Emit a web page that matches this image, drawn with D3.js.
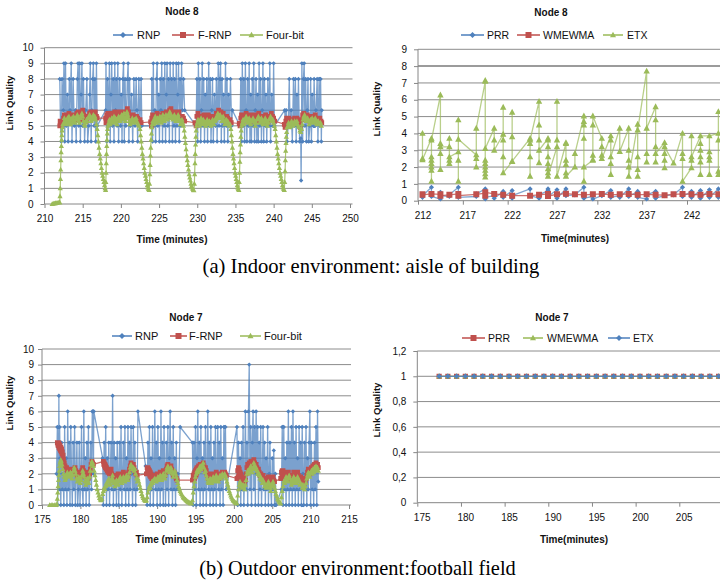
<!DOCTYPE html>
<html><head><meta charset="utf-8">
<script src="https://cdn.jsdelivr.net/npm/d3@7"></script>
<style>
body{margin:0;background:#fff}
svg{display:block}
text{font-family:"Liberation Sans",Arial,sans-serif;fill:#111}
text.cap{font-family:"Liberation Serif","Times New Roman",serif;fill:#000}
</style></head>
<body><svg id="c" width="720" height="584"></svg>
<script>
// ---------------- DATA ----------------
// (a) Node 8, indoor: RNP / F-RNP / Four-bit  [time(min), link quality]
const a_rnp = [
[212.0,8],[212.1,5],[212.2,4],[212.3,8],[212.45,6],[212.55,9],[212.65,4],[212.75,9],[212.85,5],[213.0,7],[213.1,4],[213.25,8],[213.35,6],[213.5,9],[213.6,4],[213.75,8],[213.9,5],[214.05,6],[214.15,4],[214.3,8],[214.4,9],[214.5,5],[214.6,9],[214.7,4],[214.8,7],[214.9,9],[215.0,5],[215.1,8],[215.25,4],[215.4,6],[215.55,8],[215.65,4],[215.8,5],[215.9,7],[216.0,9],[216.1,4],[216.2,6],[216.3,8],[216.4,9],[216.5,5],[216.6,8],[216.7,4],[216.8,9],[216.9,5],
[218.0,6],[218.05,9],[218.15,4],[218.25,8],[218.35,5],[218.5,9],[218.6,4],[218.7,7],[218.8,9],[218.9,5],[219.0,8],[219.1,4],[219.2,9],[219.3,6],[219.4,8],[219.5,5],[219.6,9],[219.7,4],[219.85,8],[219.95,5],[220.05,7],[220.15,4],[220.25,8],[220.35,9],[220.45,4],[220.55,8],[220.65,5],[220.75,6],[220.85,8],[220.95,9],[221.05,4],[221.15,8],[221.25,5],[221.4,7],[221.55,4],[221.7,8],[221.85,5],[222.0,8],[222.1,6],[222.2,4],[222.35,8],[222.5,5],[222.65,8],[222.75,5],
[224.0,5],[224.05,8],[224.15,4],[224.25,9],[224.35,5],[224.45,6],[224.55,4],[224.65,8],[224.75,9],[224.85,5],[224.95,7],[225.05,4],[225.15,8],[225.25,6],[225.35,9],[225.45,4],[225.55,8],[225.65,5],[225.75,9],[225.85,4],[225.95,7],[226.05,9],[226.15,5],[226.25,8],[226.35,4],[226.45,9],[226.55,6],[226.65,8],[226.75,4],[226.85,9],[226.95,5],[227.05,8],[227.15,4],[227.25,9],[227.35,5],[227.45,7],[227.55,9],[227.65,4],[227.75,8],[227.85,5],[227.95,9],[228.05,6],[228.2,8],[228.35,6],[229.85,5],
[229.95,8],[230.05,4],[230.15,9],[230.25,5],[230.35,8],[230.45,4],[230.55,6],[230.65,9],[230.75,5],[230.85,8],[230.95,4],[231.05,7],[231.15,5],[231.25,8],[231.35,4],[231.5,9],[231.6,5],[231.7,8],[231.8,4],[231.9,6],[232.0,8],[232.1,4],[232.25,7],[232.4,5],[232.5,8],[232.6,4],[232.75,9],[232.85,5],[232.95,8],[233.05,9],[233.15,4],[233.25,8],[233.35,5],[233.45,7],[233.55,4],[233.7,9],[233.8,5],[233.9,8],[234.0,4],[234.1,7],[234.2,5],[234.35,8],[234.5,5],[234.6,6],
[235.6,5],[235.7,8],[235.8,4],[235.9,9],[236.0,5],[236.1,8],[236.2,4],[236.3,9],[236.4,6],[236.5,4],[236.6,8],[236.7,5],[236.8,9],[236.9,4],[237.0,7],[237.1,4],[237.2,8],[237.3,5],[237.4,9],[237.5,4],[237.6,6],[237.7,8],[237.8,4],[237.9,7],[238.0,4],[238.1,9],[238.2,5],[238.3,8],[238.4,4],[238.5,6],[238.6,9],[238.7,4],[238.8,8],[238.9,5],[239.0,7],[239.1,4],[239.25,8],[239.4,5],[239.5,9],[239.6,4],[239.75,7],[239.9,5],[240.0,9],[240.1,5],
[241.45,6],[241.55,5],[241.65,6],[241.75,4],[241.9,5],[242.05,8],[242.15,5],[242.3,6],[242.45,4],[242.6,8],[242.7,5],[242.85,8],[242.95,4],[243.05,7],[243.15,5],[243.25,8],[243.4,4],[243.55,4.2],[243.6,1.5],[243.65,5],[243.7,9],[243.8,4],[243.9,8],[244.0,9],[244.1,5],[244.2,8],[244.3,4],[244.4,6],[244.5,8],[244.6,4],[244.75,5],[244.85,8],[244.95,4],[245.05,7],[245.2,5],[245.3,8],[245.45,5],[245.55,6],[245.7,8],[245.8,4],[245.95,8],[246.05,5],[246.15,8],[246.25,4],[246.3,6]
];
const a_frnp = [
[212.0,5.0],[212.05,5.3],[212.1,5.0],[212.15,5.2],[212.25,5.1],[212.35,5.2],[212.5,5.5],[212.6,5.7],[212.75,5.6],[212.9,5.4],[213.05,5.6],[213.2,5.8],[213.35,5.5],[213.5,5.3],[213.65,5.6],[213.8,5.7],[213.95,5.4],[214.1,5.5],[214.25,5.8],[214.4,5.9],[214.55,5.6],[214.7,5.4],[214.85,5.7],[215.0,6.0],[215.15,5.7],[215.3,5.4],[215.45,5.3],[215.6,5.5],[215.75,5.6],[215.9,5.8],[216.05,5.9],[216.2,5.7],[216.35,5.5],[216.5,5.8],[216.65,5.9],[216.8,5.6],[216.9,5.5],[218.0,5.5],
[218.05,5.2],[218.15,5.7],[218.3,5.8],[218.45,5.5],[218.6,5.3],[218.75,5.6],[218.9,5.8],[219.05,5.5],[219.2,5.9],[219.35,5.6],[219.5,5.4],[219.65,5.7],[219.8,5.9],[219.95,5.7],[220.1,5.5],[220.25,5.8],[220.4,5.9],[220.55,5.6],[220.7,5.8],[220.85,6.1],[221.0,5.9],[221.15,5.5],[221.3,5.3],[221.45,5.6],[221.6,5.7],[221.75,5.5],[221.9,5.4],[222.05,5.6],[222.2,5.5],[222.35,5.3],[222.5,5.4],[222.65,5.2],[223.9,5.25],
[224.0,5.0],[224.05,5.5],[224.15,5.7],[224.3,5.5],[224.45,5.3],[224.6,5.6],[224.75,5.8],[224.9,5.5],[225.05,5.7],[225.2,5.4],[225.35,5.6],[225.5,5.8],[225.65,5.5],[225.8,5.7],[225.95,5.9],[226.1,5.6],[226.25,5.8],[226.4,6.0],[226.55,6.1],[226.7,5.8],[226.85,5.6],[227.0,5.9],[227.15,5.7],[227.3,5.5],[227.45,5.8],[227.6,5.9],[227.75,5.6],[227.9,5.4],[228.05,5.6],[228.2,5.5],[228.35,5.3],[229.7,5.2],
[229.85,5.0],[229.95,5.6],[230.1,5.8],[230.25,5.5],[230.4,5.3],[230.55,5.6],[230.7,5.4],[230.85,5.7],[231.0,5.5],[231.15,5.3],[231.3,5.6],[231.45,5.7],[231.6,5.4],[231.75,5.5],[231.9,5.3],[232.05,5.6],[232.2,5.4],[232.35,5.5],[232.5,5.8],[232.65,5.6],[232.8,6.0],[232.95,5.8],[233.1,5.9],[233.25,5.6],[233.4,5.8],[233.55,5.5],[233.7,5.3],[233.85,5.6],[234.0,5.5],[234.15,5.3],[234.3,5.4],[234.45,5.2],[235.5,5.15],
[235.6,5.0],[235.7,5.5],[235.8,5.7],[235.95,5.5],[236.1,5.3],[236.25,5.6],[236.4,5.8],[236.55,5.5],[236.7,5.4],[236.85,5.7],[237.0,5.5],[237.15,5.3],[237.3,5.6],[237.45,5.7],[237.6,5.4],[237.75,5.3],[237.9,5.6],[238.05,5.8],[238.2,5.5],[238.35,5.4],[238.5,5.6],[238.65,5.3],[238.8,5.5],[238.95,5.7],[239.1,5.4],[239.25,5.2],[239.4,5.5],[239.55,5.6],[239.7,5.8],[239.85,5.6],[240.0,5.5],[240.15,5.3],[241.4,5.1],
[241.5,4.9],[241.6,5.3],[241.7,5.5],[241.85,5.4],[242.0,5.5],[242.15,5.3],[242.3,5.4],[242.45,5.2],[242.6,5.4],[242.75,5.5],[242.9,5.3],[243.05,5.5],[243.2,5.4],[243.35,5.2],[243.5,4.9],[243.65,5.4],[243.8,5.7],[243.95,5.8],[244.1,5.6],[244.25,5.5],[244.4,5.7],[244.55,5.4],[244.7,5.3],[244.85,5.5],[245.0,5.6],[245.15,5.4],[245.3,5.6],[245.45,5.7],[245.6,5.5],[245.75,5.3],[245.9,5.4],[246.05,5.5],[246.2,5.3],[246.3,5.2]
];
const a_fourbit = [
[211.0,0],[211.15,0.02],[211.3,0.03],[211.45,0.05],[211.6,0.06],[211.75,0.08],[211.9,0.1],[212.0,0.1],[212.03,0.5],[212.06,1.0],[212.09,1.6],[212.12,2.2],[212.15,2.8],[212.18,3.3],[212.21,3.7],[212.24,4.1],[212.27,4.4],[212.3,4.7],[212.35,4.9],[212.4,5.1],
[212.5,5.2],[212.6,5.5],[212.7,5.3],[212.8,5.1],[212.9,5.4],[213.0,5.5],[213.1,5.2],[213.2,5.6],[213.3,5.3],[213.4,5.1],[213.5,5.4],[213.6,5.5],[213.7,5.2],[213.8,5.6],[213.9,5.3],[214.0,5.2],[214.1,5.4],[214.2,5.6],[214.3,5.7],[214.4,5.5],[214.5,5.3],[214.6,5.2],[214.7,5.5],[214.8,5.7],[214.9,5.8],[215.0,5.6],[215.1,5.3],[215.2,5.1],[215.3,5.0],[215.4,5.2],[215.5,5.4],[215.6,5.3],[215.7,5.5],[215.8,5.6],[215.9,5.7],[216.0,5.5],[216.1,5.3],[216.2,5.4],[216.3,5.6],[216.4,5.7],[216.5,5.5],[216.6,5.6],[216.7,5.4],[216.8,5.1],
[216.9,4.8],[216.98,4.4],[217.06,4.0],[217.14,3.6],[217.22,3.2],[217.3,2.9],[217.38,2.6],[217.46,2.3],[217.54,2.0],[217.62,1.8],[217.7,1.6],[217.78,1.4],[217.86,1.2],[217.94,1.0],[218.0,0.9],[218.03,1.4],[218.06,2.0],[218.09,2.6],[218.12,3.2],[218.15,3.7],[218.18,4.1],[218.22,4.5],[218.26,4.8],[218.3,5.0],
[218.4,5.2],[218.5,5.4],[218.6,5.1],[218.7,5.3],[218.8,5.5],[218.9,5.2],[219.0,5.4],[219.1,5.6],[219.2,5.3],[219.3,5.5],[219.4,5.2],[219.5,5.1],[219.6,5.4],[219.7,5.6],[219.8,5.5],[219.9,5.3],[220.0,5.5],[220.1,5.7],[220.2,5.4],[220.3,5.6],[220.4,5.8],[220.5,5.5],[220.6,5.3],[220.7,5.6],[220.8,5.9],[220.9,5.7],[221.0,5.5],[221.1,5.3],[221.2,5.1],[221.3,5.2],[221.4,5.4],[221.5,5.5],[221.6,5.3],[221.7,5.2],[221.8,5.4],[221.9,5.3],[222.0,5.5],[222.1,5.3],[222.2,5.2],[222.3,5.1],[222.4,5.0],
[222.5,4.8],[222.58,4.4],[222.66,4.0],[222.74,3.6],[222.82,3.2],[222.9,2.9],[222.98,2.6],[223.06,2.3],[223.14,2.0],[223.22,1.8],[223.3,1.6],[223.38,1.4],[223.46,1.2],[223.54,1.05],[223.62,0.95],[223.7,0.9],[223.75,1.3],[223.79,1.9],[223.83,2.5],[223.87,3.1],[223.91,3.6],[223.95,4.1],[224.0,4.5],[224.05,4.9],[224.1,5.1],
[224.2,5.3],[224.3,5.1],[224.4,5.4],[224.5,5.6],[224.6,5.3],[224.7,5.2],[224.8,5.5],[224.9,5.3],[225.0,5.4],[225.1,5.6],[225.2,5.3],[225.3,5.2],[225.4,5.5],[225.5,5.7],[225.6,5.4],[225.7,5.3],[225.8,5.5],[225.9,5.7],[226.0,5.5],[226.1,5.4],[226.2,5.6],[226.3,5.8],[226.4,5.9],[226.5,5.7],[226.6,5.5],[226.7,5.6],[226.8,5.4],[226.9,5.6],[227.0,5.7],[227.1,5.5],[227.2,5.3],[227.3,5.4],[227.4,5.6],[227.5,5.7],[227.6,5.5],[227.7,5.3],[227.8,5.1],[227.9,5.3],[228.0,5.4],[228.1,5.2],[228.2,5.0],
[228.3,4.7],[228.38,4.3],[228.46,3.9],[228.54,3.5],[228.62,3.1],[228.7,2.8],[228.78,2.5],[228.86,2.2],[228.94,1.9],[229.02,1.7],[229.1,1.5],[229.18,1.3],[229.26,1.15],[229.34,1.05],[229.42,0.95],[229.5,0.9],[229.56,0.88],[229.62,1.3],[229.66,1.9],[229.7,2.6],[229.74,3.2],[229.78,3.8],[229.82,4.3],[229.86,4.7],[229.9,5.0],
[230.0,5.2],[230.1,5.4],[230.2,5.2],[230.3,5.0],[230.4,5.3],[230.5,5.5],[230.6,5.2],[230.7,5.1],[230.8,5.4],[230.9,5.3],[231.0,5.2],[231.1,5.0],[231.2,5.3],[231.3,5.4],[231.4,5.2],[231.5,5.1],[231.6,5.3],[231.7,5.2],[231.8,5.0],[231.9,5.2],[232.0,5.4],[232.1,5.3],[232.2,5.1],[232.3,5.3],[232.4,5.5],[232.5,5.4],[232.6,5.6],[232.7,5.8],[232.8,5.6],[232.9,5.5],[233.0,5.7],[233.1,5.5],[233.2,5.3],[233.3,5.5],[233.4,5.6],[233.5,5.3],[233.6,5.1],[233.7,5.2],[233.8,5.4],[233.9,5.2],[234.0,5.3],[234.1,5.1],[234.2,5.0],[234.3,5.1],
[234.4,4.8],[234.47,4.4],[234.54,4.0],[234.61,3.6],[234.68,3.2],[234.75,2.9],[234.82,2.6],[234.89,2.3],[234.96,2.0],[235.03,1.8],[235.1,1.6],[235.17,1.4],[235.24,1.2],[235.31,1.05],[235.38,0.95],[235.45,0.9],[235.5,1.4],[235.54,2.0],[235.58,2.7],[235.62,3.3],[235.66,3.8],[235.7,4.3],[235.75,4.7],[235.8,5.0],
[235.9,5.2],[236.0,5.4],[236.1,5.1],[236.2,5.3],[236.3,5.5],[236.4,5.6],[236.5,5.3],[236.6,5.2],[236.7,5.4],[236.8,5.5],[236.9,5.3],[237.0,5.1],[237.1,5.3],[237.2,5.4],[237.3,5.5],[237.4,5.3],[237.5,5.2],[237.6,5.0],[237.7,5.2],[237.8,5.4],[237.9,5.5],[238.0,5.6],[238.1,5.4],[238.2,5.2],[238.3,5.3],[238.4,5.5],[238.5,5.3],[238.6,5.1],[238.7,5.2],[238.8,5.4],[238.9,5.5],[239.0,5.3],[239.1,5.1],[239.2,5.0],[239.3,5.2],[239.4,5.4],[239.5,5.5],[239.6,5.6],[239.7,5.4],[239.8,5.3],[239.9,5.4],[240.0,5.2],[240.1,5.0],
[240.2,4.8],[240.28,4.4],[240.36,4.0],[240.44,3.6],[240.52,3.2],[240.6,2.9],[240.68,2.6],[240.76,2.3],[240.84,2.0],[240.92,1.8],[241.0,1.6],[241.08,1.4],[241.16,1.2],[241.24,1.05],[241.32,0.95],[241.4,0.9],[241.45,1.4],[241.5,2.1],[241.54,2.8],[241.58,3.4],[241.62,3.9],[241.66,4.3],[241.7,4.6],[241.75,4.9],
[241.85,5.0],[241.95,5.2],[242.05,5.1],[242.15,4.9],[242.25,5.1],[242.35,5.3],[242.45,5.2],[242.55,5.0],[242.65,5.2],[242.75,5.3],[242.85,5.1],[242.95,5.2],[243.05,5.3],[243.15,5.1],[243.25,5.0],[243.35,4.9],[243.45,4.7],[243.55,4.6],[243.65,4.8],[243.75,5.1],[243.85,5.4],[243.95,5.6],[244.05,5.7],[244.15,5.5],[244.25,5.3],[244.35,5.4],[244.45,5.5],[244.55,5.3],[244.65,5.1],[244.75,5.2],[244.85,5.4],[244.95,5.3],[245.05,5.5],[245.15,5.4],[245.25,5.2],[245.35,5.4],[245.45,5.5],[245.55,5.3],[245.65,5.1],[245.75,5.2],[245.85,5.3],[245.95,5.2],[246.05,5.1],[246.15,5.2],[246.25,5.0]
];

// (a) Node 8, indoor: PRR / WMEWMA / ETX
const b_prr = [
[212,0.2],[212,0.3],[213,0.8],[213,0.25],[214,0.1],[214,0.5],[214,0.3],[215,0.25],[215,0.35],[216,0.8],[216,0.2],[218,0.25],[218,0.4],[219,0.7],[219,0.1],[219,0.6],[219,0.2],[220,0.3],[220,0.15],[221,0.55],[221,0.2],[222,0.6],[222,0.15],[222,0.3],[224,0.7],[224,0.3],[225,0.15],[225,0.35],[226,0.6],[226,0.7],[226,0.25],[227,0.65],[227,0.15],[228,0.7],[228,0.3],[229,0.35],[230,0.8],[230,0.15],[231,0.25],[231,0.1],[232,0.3],[233,0.6],[233,0.2],[234,0.3],[234,0.2],[235,0.7],[235,0.25],[236,0.55],[236,0.2],[237,0.1],[237,0.35],[238,0.55],[238,0.15],[239,0.3],[240,0.35],[241,0.8],[241,0.25],[242,0.55],[242,0.2],[243,0.6],[243,0.15],[244,0.65],[244,0.2],[245,0.7],[245,0.2],[246,0.3]
];
const b_wmewma = [
[212,0.38],[212,0.35],[213,0.4],[214,0.38],[214,0.3],[215,0.35],[216,0.4],[216,0.3],[218,0.38],[219,0.45],[219,0.3],[219,0.5],[220,0.4],[221,0.35],[222,0.3],[224,0.3],[225,0.35],[226,0.4],[226,0.28],[227,0.38],[228,0.42],[229,0.38],[230,0.35],[231,0.38],[232,0.4],[233,0.35],[234,0.38],[235,0.4],[236,0.35],[237,0.38],[238,0.35],[239,0.33],[240,0.38],[241,0.4],[242,0.38],[243,0.35],[244,0.4],[245,0.38],[246,0.35]
];
const b_etx = [
[212,4.0],[212,2.5],[212,2.43],
[213,3.7],[213,2.6],[213,2.4],[213,2.2],[213,2.0],[213,1.8],[213,1.15],[213,3.6],
[214,6.28],[214,3.4],[214,2.8],[214,1.85],[214,3.2],
[215,3.2],[215,3.7],[215,2.4],[215,2.2],[215,2.6],
[216,2.9],[216,4.8],[216,2.4],[216,1.15],[216,3.65],
[218,2.72],[218,2.5],[218,2.0],[218,4.3],
[219,7.1],[219,7.15],[219,2.4],[219,2.2],[219,2.0],[219,1.8],[219,1.6],[219,1.4],[219,3.1],
[220,4.3],[220,3.6],[220,3.0],
[221,3.95],[221,5.55],[221,3.6],[221,2.6],[221,1.65],
[222,2.33],[222,5.25],[222,3.8],[222,2.35],
[224,3.7],[224,3.4],[224,2.6],[224,1.45],[224,3.6],
[225,5.9],[225,4.5],[225,3.6],[225,2.25],[225,3.0],
[226,3.7],[226,3.6],[226,3.2],[226,2.6],[226,2.2],[226,1.9],[226,1.65],[226,1.45],
[227,3.2],[227,5.9],[227,3.6],[227,1.45],
[228,3.4],[228,3.45],[228,2.4],[228,2.15],[228,1.65],[228,1.45],
[229,2.0],[229,2.8],
[230,5.03],[230,4.7],[230,4.5],[230,3.7],[230,1.15],[230,2.0],
[231,2.4],[231,2.45],[231,2.7],[231,4.5],[231,5.03],
[232,3.7],[232,3.2],[232,2.7],[232,2.5],
[233,3.85],[233,3.6],[233,2.2],[233,1.55],[233,2.6],
[234,4.3],[234,2.92],
[235,4.3],[235,3.0],[235,2.4],[235,2.0],[235,1.45],
[236,4.54],[236,2.6],[236,1.85],[236,1.45],[236,4.2],
[237,7.7],[237,2.8],[237,2.3],[237,4.3],
[238,5.58],[238,4.8],[238,3.2],[238,2.3],[238,2.8],
[239,3.45],[239,2.8],[239,2.4],[239,1.95],[239,3.2],
[240,2.23],
[241,4.0],[241,2.8],[241,2.5],[241,1.15],
[242,1.95],[242,3.85],[242,2.4],[242,2.6],
[243,3.85],[243,1.55],[243,2.3],[243,2.6],[243,3.0],[243,3.4],[243,3.85],
[244,3.85],[244,1.55],[244,2.4],[244,2.6],[244,2.9],[244,3.85],
[245,4.0],[245,5.29],[245,3.6],[245,1.75],[245,1.55],[245,4.0],
[246,4.0]
];

// (b) Node 7, outdoor: RNP / F-RNP / Four-bit
const c_rnp = [
[176.9,2],[177.0,5],[177.05,0],[177.1,4],[177.15,2],[177.2,7],[177.25,1],[177.3,5],[177.35,3],[177.45,0],[177.55,4],[177.65,1],[177.75,2],[177.85,0],[177.95,5],[178.05,1],[178.15,3],[178.25,0],[178.35,6],[178.45,1],[178.55,4],[178.65,0],[178.75,5],[178.85,2],[178.95,0],[179.05,4],[179.15,1],[179.25,5],[179.35,0],[179.45,2],[179.55,4],[179.65,0],[179.75,1],[179.85,4],[179.95,0],[180.05,2],[180.15,5],[180.25,1],[180.35,0],[180.45,6],[180.55,1],[180.65,3],[180.75,0],[180.85,4],[180.95,1],[181.05,5],[181.15,0],[181.25,2],[181.35,4],[181.45,1],[181.55,6],[181.65,6],[181.7,2],[181.75,6],[182.9,3],
[183.0,0],[183.1,4],[183.2,1],[183.3,5],[183.4,0],[183.5,3],[183.6,1],[183.7,4],[183.8,0],[183.9,2],[184.0,4],[184.1,1],[184.2,7],[184.3,0],[184.4,4],[184.5,1],[184.6,3],[184.7,0],[184.8,4],[184.9,2],[185.0,0],[185.1,4],[185.2,1],[185.3,5],[185.4,0],[185.5,2],[185.6,4],[185.7,1],[185.8,5],[185.9,0],[186.0,3],[186.1,1],[186.2,5],[186.3,0],[186.4,4],[186.5,1],[186.6,5],[186.7,2],[186.8,0],[186.9,5],[187.0,1],[187.1,4],[187.2,0],[187.3,2],[187.4,1],[187.5,6],[188.5,2.5],
[188.7,0],[188.8,4],[188.9,1],[189.0,5],[189.1,0],[189.2,3],[189.3,1],[189.4,5],[189.5,0],[189.6,2],[189.7,6],[189.8,1],[189.9,4],[190.0,0],[190.1,5],[190.2,1],[190.3,3],[190.4,0],[190.5,6],[190.6,1],[190.7,4],[190.8,0],[190.9,5],[191.0,2],[191.1,0],[191.2,4],[191.3,1],[191.4,5],[191.5,0],[191.6,3],[191.7,6],[191.8,1],[191.9,4],[192.0,0],[192.1,5],[192.2,1],[192.3,3],[192.4,0],[192.5,4],[192.6,1],[192.7,2],[192.8,1],[193.0,5],[194.6,4],
[194.7,0],[194.8,4],[194.9,1],[195.0,5],[195.1,0],[195.2,3],[195.3,6],[195.4,1],[195.5,4],[195.6,0],[195.7,5],[195.8,1],[195.9,3],[196.0,0],[196.1,4],[196.2,1],[196.3,5],[196.4,0],[196.5,2],[196.6,6],[196.7,1],[196.8,4],[196.9,0],[197.0,5],[197.1,1],[197.2,3],[197.3,0],[197.4,4],[197.5,1],[197.6,5],[197.7,0],[197.8,2],[197.9,5],[198.0,1],[198.1,4],[198.2,0],[198.3,5],[198.4,1],[198.5,3],[198.6,0],[198.7,5],[198.8,2],[198.9,5],[199.0,1],
[200.4,5],[200.5,0],[200.6,4],[200.7,1],[200.8,3],[200.9,0],[201.0,4],[201.1,1],[201.2,5],[201.3,0],[201.4,2],[201.5,6],[201.6,1],[201.7,4],[201.8,0],[201.9,6],[202.0,9],[202.1,1],[202.2,5],[202.3,0],[202.4,4],[202.5,6],[202.6,1],[202.7,5],[202.8,0],[202.9,6],[203.0,2],[203.1,5],[203.2,0],[203.3,4],[203.4,1],[203.5,5],[203.6,0],[203.7,2],[203.8,5],[203.9,1],[204.0,4],[204.1,0],[204.2,3],[204.3,1],[204.4,5],[204.5,0],[204.6,2],[204.7,4],[204.8,1],[204.9,0],[205.0,3],[205.1,1],[205.2,3.5],[205.3,0],[205.4,2],[205.5,0],
[206.2,1],[206.3,5],[206.4,0],[206.5,5],[206.6,1],[206.7,3],[206.8,0],[206.9,4],[207.0,1],[207.1,6],[207.2,0],[207.3,4],[207.4,1],[207.5,5],[207.6,0],[207.7,6],[207.8,1],[207.9,4],[208.0,0],[208.1,5],[208.2,1],[208.3,3],[208.4,0],[208.5,5],[208.6,1],[208.7,4],[208.8,0],[208.9,5],[209.0,2],[209.1,0],[209.2,4],[209.3,1],[209.4,5],[209.5,0],[209.6,3],[209.7,1],[209.8,4],[209.9,6],[210.0,0],[210.1,4],[210.2,1],[210.3,2.5],[210.4,0],[210.5,4],[210.6,1],[210.7,5],[210.8,0],[210.9,6],[211.0,1.5]
];
const c_frnp = [
[177.0,4.0],[177.05,3.9],[177.1,3.8],[177.15,4.0],[177.2,3.7],[177.25,3.9],[177.3,3.6],[177.35,3.8],[177.4,3.5],[177.45,3.7],[177.5,3.4],[177.55,3.6],[177.6,3.3],[177.65,3.4],[177.7,3.1],[177.75,3.2],[177.8,2.9],[177.9,2.7],[178.0,2.5],[178.1,2.3],[178.2,2.4],[178.3,2.2],[178.4,2.3],[178.5,2.1],[178.6,2.3],[178.7,2.2],[178.8,2.0],[178.9,2.1],[179.0,2.3],[179.1,2.1],[179.2,2.2],[179.3,2.4],[179.4,2.2],[179.5,2.0],[179.6,1.8],[179.7,1.9],[179.8,2.1],[179.9,2.0],[180.0,1.8],[180.1,1.9],[180.2,2.2],[180.3,2.4],[180.4,2.2],[180.5,2.0],[180.6,1.8],[180.7,1.9],[180.8,2.1],[180.9,1.9],[181.0,1.7],[181.1,1.8],[181.2,2.0],[181.3,2.3],[181.4,2.6],[181.5,2.8],[181.6,2.7],[181.7,2.6],
[183.0,2.8],[183.05,2.6],[183.1,2.7],[183.15,2.5],[183.2,2.6],[183.25,2.4],[183.3,2.5],[183.35,2.3],[183.4,2.4],[183.5,2.2],[183.6,2.1],[183.7,2.2],[183.8,2.0],[183.9,2.1],[184.0,2.3],[184.1,2.0],[184.2,1.8],[184.3,1.7],[184.4,1.9],[184.5,1.8],[184.6,1.6],[184.7,1.7],[184.8,1.9],[184.9,2.0],[185.0,1.8],[185.1,1.7],[185.2,1.9],[185.3,2.0],[185.4,1.8],[185.5,1.9],[185.6,2.1],[185.7,1.9],[185.8,1.8],[185.9,2.0],[186.0,1.9],[186.1,1.7],[186.2,1.9],[186.3,2.1],[186.4,2.3],[186.5,2.5],[186.6,2.7],[186.7,2.6],[186.8,2.4],[186.9,2.6],[187.0,2.4],[187.1,2.2],[187.2,2.0],[187.3,2.1],[187.4,1.9],[188.6,2.0],
[188.7,2.4],[188.75,2.2],[188.8,2.4],[188.85,2.1],[188.9,2.3],[188.95,2.0],[189.0,2.2],[189.05,1.9],[189.1,2.1],[189.15,1.8],[189.2,2.0],[189.3,1.7],[189.4,1.8],[189.5,1.6],[189.6,1.8],[189.7,1.9],[189.8,1.7],[189.9,1.8],[190.0,2.0],[190.1,1.9],[190.2,1.8],[190.3,2.0],[190.4,2.1],[190.5,1.9],[190.6,1.8],[190.7,2.0],[190.8,2.2],[190.9,2.0],[191.0,1.9],[191.1,2.1],[191.2,2.3],[191.3,2.5],[191.4,2.6],[191.5,2.4],[191.6,2.2],[191.7,2.3],[191.8,2.5],[191.9,2.3],[192.0,2.1],[192.1,1.9],[192.2,2.1],[192.3,2.0],[192.4,1.8],[192.5,1.7],[192.6,1.6],[194.6,1.6],
[194.7,1.9],[194.75,1.6],[194.8,2.0],[194.85,1.7],[194.9,2.1],[194.95,1.8],[195.0,2.2],[195.05,1.9],[195.1,2.3],[195.15,2.0],[195.2,2.4],[195.3,2.2],[195.4,2.5],[195.5,2.3],[195.6,2.6],[195.7,2.4],[195.8,2.6],[195.9,2.5],[196.0,2.7],[196.1,2.5],[196.2,2.3],[196.3,2.4],[196.4,2.2],[196.5,2.0],[196.6,1.9],[196.7,1.7],[196.8,1.9],[196.9,2.0],[197.0,1.8],[197.1,1.7],[197.2,1.9],[197.3,2.0],[197.4,1.8],[197.5,1.7],[197.6,1.9],[197.7,2.1],[197.8,2.0],[197.9,1.8],[198.0,1.7],[198.1,1.9],[198.2,2.0],[198.3,1.8],[198.4,1.9],[198.5,2.1],[198.6,2.0],[198.7,1.9],[198.8,2.1],[198.9,2.0],[199.0,1.9],[200.4,1.7],
[200.5,2.2],[200.55,1.8],[200.6,2.4],[200.65,2.0],[200.7,2.3],[200.75,1.9],[200.8,2.1],[200.85,1.7],[200.9,2.0],[200.95,1.6],[201.0,1.8],[201.1,1.5],[201.2,1.7],[201.3,1.6],[201.4,1.4],[201.5,1.6],[201.6,2.0],[201.7,2.4],[201.8,2.6],[201.9,2.4],[202.0,2.7],[202.1,2.5],[202.2,2.8],[202.3,2.6],[202.4,2.4],[202.5,2.7],[202.6,2.9],[202.7,2.7],[202.8,2.5],[202.9,2.6],[203.0,2.4],[203.1,2.2],[203.2,2.3],[203.3,2.1],[203.4,1.9],[203.5,2.0],[203.6,1.8],[203.7,1.7],[203.8,1.9],[203.9,1.7],[204.0,1.5],[204.1,1.6],[204.2,1.4],[204.3,1.5],[204.4,1.7],[204.5,1.8],[204.6,1.6],[204.7,1.4],[204.8,1.3],[204.9,1.5],[205.0,1.7],[205.1,1.8],[205.2,1.6],[205.3,1.5],[206.1,1.7],
[206.2,2.1],[206.25,1.8],[206.3,2.2],[206.35,1.9],[206.4,2.2],[206.45,1.8],[206.5,2.1],[206.6,1.9],[206.7,2.1],[206.8,2.0],[206.9,1.8],[207.0,1.9],[207.1,2.1],[207.2,1.9],[207.3,1.7],[207.4,1.8],[207.5,1.6],[207.6,1.7],[207.7,1.9],[207.8,2.1],[207.9,2.0],[208.0,1.8],[208.1,1.7],[208.2,1.9],[208.3,2.1],[208.4,1.9],[208.5,1.7],[208.6,1.6],[208.7,1.8],[208.8,1.6],[208.9,1.5],[209.0,1.7],[209.1,1.6],[209.2,1.4],[209.3,1.5],[209.4,1.7],[209.5,1.9],[209.6,2.1],[209.7,2.3],[209.8,2.1],[209.9,2.0],[210.0,2.2],[210.1,2.4],[210.2,2.2],[210.3,2.5],[210.4,2.3],[210.5,2.6],[210.6,2.4],[210.7,2.7],[210.8,2.5],[210.9,2.6],[211.0,2.4]
];
const c_fourbit = [
[176.0,0],[176.2,0],[176.4,0],[176.6,0],[176.8,0],[176.95,0.05],[177.0,0.4],[177.05,0.8],[177.1,1.2],[177.15,1.6],[177.2,1.9],[177.25,2.2],[177.3,2.5],[177.35,2.7],[177.4,2.8],[177.45,2.9],[177.5,2.8],[177.6,2.6],[177.7,2.3],[177.8,2.0],[177.9,1.8],[178.0,1.6],[178.1,1.7],[178.2,1.9],[178.3,2.1],[178.4,2.0],[178.5,1.8],[178.6,2.0],[178.7,2.1],[178.8,1.9],[178.9,1.7],[179.0,1.9],[179.1,2.2],[179.2,2.4],[179.3,2.2],[179.4,2.0],[179.5,1.7],[179.6,1.5],[179.7,1.6],[179.8,1.8],[179.9,1.6],[180.0,1.4],[180.1,1.6],[180.2,1.9],[180.3,2.2],[180.4,2.0],[180.5,1.8],[180.6,1.5],[180.7,1.3],[180.8,1.5],[180.9,1.7],[181.0,1.5],[181.1,1.4],[181.2,1.8],[181.3,2.2],[181.4,2.6],[181.5,2.8],[181.6,2.7],[181.7,2.5],[181.8,2.2],[181.9,1.9],[182.0,1.6],[182.1,1.3],[182.2,1.0],[182.3,0.8],[182.4,0.6],[182.5,0.45],[182.6,0.35],[182.7,0.3],[182.8,0.4],[182.9,0.7],
[183.0,0.9],[183.1,1.1],[183.2,1.0],[183.3,1.2],[183.4,1.4],[183.5,1.3],[183.6,1.5],[183.7,1.7],[183.8,1.5],[183.9,1.3],[184.0,1.5],[184.1,1.7],[184.2,1.9],[184.3,1.6],[184.4,1.4],[184.5,1.2],[184.6,1.4],[184.7,1.6],[184.8,1.5],[184.9,1.3],[185.0,1.5],[185.1,1.7],[185.2,1.8],[185.3,1.6],[185.4,1.4],[185.5,1.6],[185.6,1.8],[185.7,1.7],[185.8,1.5],[185.9,1.7],[186.0,1.9],[186.1,1.7],[186.2,1.6],[186.3,1.8],[186.4,2.1],[186.5,2.4],[186.6,2.6],[186.7,2.5],[186.8,2.3],[186.9,2.4],[187.0,2.2],[187.1,2.3],[187.2,2.0],[187.3,1.7],[187.4,1.5],[187.5,1.7],[187.6,1.5],[187.7,1.3],[187.8,1.1],[187.9,0.9],[188.0,0.7],[188.1,0.55],[188.2,0.45],[188.3,0.35],[188.4,0.3],[188.5,0.25],[188.6,0.3],
[188.7,0.5],[188.8,0.8],[188.9,1.0],[189.0,1.2],[189.1,1.1],[189.2,1.3],[189.3,1.5],[189.4,1.4],[189.5,1.6],[189.6,1.5],[189.7,1.7],[189.8,1.6],[189.9,1.5],[190.0,1.7],[190.1,1.8],[190.2,1.6],[190.3,1.7],[190.4,1.9],[190.5,1.8],[190.6,1.6],[190.7,1.8],[190.8,2.0],[190.9,1.8],[191.0,1.7],[191.1,1.9],[191.2,2.2],[191.3,2.4],[191.4,2.5],[191.5,2.3],[191.6,2.1],[191.7,2.2],[191.8,2.4],[191.9,2.2],[192.0,2.0],[192.1,1.8],[192.2,2.0],[192.3,2.2],[192.4,2.0],[192.5,1.8],[192.6,1.6],[192.7,1.4],[192.8,1.2],[192.9,1.05],[193.0,0.9],[193.1,0.8],[193.2,0.7],[193.3,0.6],[193.4,0.5],[193.5,0.45],[193.6,0.4],[193.7,0.35],[193.8,0.3],[193.9,0.25],[194.0,0.2],[194.1,0.18],[194.2,0.15],[194.3,0.12],[194.4,0.1],[194.5,0.1],
[194.6,0.3],[194.7,0.8],[194.8,1.2],[194.9,1.5],[195.0,1.8],[195.1,2.0],[195.2,2.2],[195.3,2.1],[195.4,2.3],[195.5,2.2],[195.6,2.5],[195.7,2.3],[195.8,2.5],[195.9,2.6],[196.0,2.7],[196.1,2.4],[196.2,2.1],[196.3,2.2],[196.4,1.9],[196.5,1.7],[196.6,1.5],[196.7,1.4],[196.8,1.6],[196.9,1.7],[197.0,1.5],[197.1,1.4],[197.2,1.6],[197.3,1.8],[197.4,1.6],[197.5,1.5],[197.6,1.7],[197.7,1.9],[197.8,1.8],[197.9,1.6],[198.0,1.5],[198.1,1.7],[198.2,1.9],[198.3,1.7],[198.4,1.8],[198.5,2.0],[198.6,1.9],[198.7,1.8],[198.8,2.0],[198.9,1.9],[199.0,1.7],[199.1,1.5],[199.2,1.3],[199.3,1.1],[199.4,0.9],[199.5,0.75],[199.6,0.6],[199.7,0.5],[199.8,0.4],[199.9,0.3],[200.0,0.25],[200.1,0.2],[200.2,0.15],[200.3,0.12],[200.4,0.1],
[200.5,0.6],[200.6,1.0],[200.7,1.3],[200.8,1.5],[200.9,1.4],[201.0,1.2],[201.1,1.1],[201.2,1.3],[201.3,1.2],[201.4,1.0],[201.5,1.3],[201.6,1.6],[201.7,2.0],[201.8,2.2],[201.9,2.0],[202.0,2.3],[202.1,2.2],[202.2,2.5],[202.3,2.3],[202.4,2.1],[202.5,2.4],[202.6,2.7],[202.7,2.5],[202.8,2.3],[202.9,2.4],[203.0,2.2],[203.1,2.0],[203.2,2.1],[203.3,1.9],[203.4,1.7],[203.5,1.8],[203.6,1.6],[203.7,1.4],[203.8,1.6],[203.9,1.4],[204.0,1.2],[204.1,1.3],[204.2,1.1],[204.3,1.2],[204.4,1.4],[204.5,1.5],[204.6,1.3],[204.7,1.1],[204.8,0.9],[204.9,1.2],[205.0,1.4],[205.1,1.5],[205.2,1.3],[205.3,1.1],[205.4,0.9],[205.5,0.7],[205.6,0.55],[205.7,0.4],[205.8,0.3],[205.9,0.2],[206.0,0.15],[206.1,0.1],
[206.2,0.5],[206.3,0.9],[206.4,1.2],[206.5,1.5],[206.6,1.4],[206.7,1.6],[206.8,1.8],[206.9,1.6],[207.0,1.5],[207.1,1.7],[207.2,1.9],[207.3,1.7],[207.4,1.5],[207.5,1.3],[207.6,1.4],[207.7,1.6],[207.8,1.8],[207.9,1.7],[208.0,1.5],[208.1,1.4],[208.2,1.6],[208.3,1.8],[208.4,1.7],[208.5,1.5],[208.6,1.3],[208.7,1.4],[208.8,1.3],[208.9,1.1],[209.0,1.3],[209.1,1.2],[209.2,1.0],[209.3,1.2],[209.4,1.4],[209.5,1.7],[209.6,1.9],[209.7,2.1],[209.8,1.9],[209.9,1.8],[210.0,2.0],[210.1,2.2],[210.2,2.0],[210.3,2.3],[210.4,2.1],[210.5,2.4],[210.6,2.2],[210.7,2.5],[210.8,2.3],[210.9,2.4],[211.0,2.2]
];

// (b) Node 7, outdoor: PRR / WMEWMA / ETX (one sample per minute)
const d_time   = [177,178,179,180,181,182,183,184,185,186,187,188,189,190,191,192,193,194,195,196,197,198,199,200,201,202,203,204,205,206,207,208,209,210,211,212];
const d_prr    = [1,1,1,1,1,1,1,1,1,1,1,1,1,1,1,1,1,1,1,1,1,1,1,1,1,1,1,1,1,1,1,1,1,1,1,1];
const d_wmewma = [1,1,1,1,1,1,1,1,1,1,1,1,1,1,1,1,1,1,1,1,1,1,1,1,1,1,1,1,1,1,1,1,1,1,1,1];
const d_etx    = [1,1,1,1,1,1,1,1,1,1,1,1,1,1,1,1,1,1,1,1,1,1,1,1,1,1,1,1,1,1,1,1,1,1,1,1];

// tick values / labels
const a_xTicks = [210,215,220,225,230,235,240,245,250];
const a_yTicks = [0,1,2,3,4,5,6,7,8,9,10];
const b_xLabels = [212,217,222,227,232,237,242];
const b_xMarks = [211.5,216.5,221.5,226.5,231.5,236.5,241.5];
const b_yTicks = [0,1,2,3,4,5,6,7,8,9];
const c_xTicks = [175,180,185,190,195,200,205,210,215];
const c_yTicks = [0,1,2,3,4,5,6,7,8,9,10];
const d_xLabels = [175,180,185,190,195,200,205];
const d_xMarks = [174.5,179.5,184.5,189.5,194.5,199.5,204.5];
const d_yTicks = [0,0.2,0.4,0.6,0.8,1,1.2];

// ---------------- DRAWING ----------------
const COL = {blue:"#4F81BD", red:"#C0504D", green:"#9BBB59"};
const svg = d3.select("#c");

function shapeAt(shape, px, py, r){
  if(shape==="diamond") return `M${px},${py-r}L${px+r},${py}L${px},${py+r}L${px-r},${py}Z`;
  if(shape==="square") return `M${px-r},${py-r}h${2*r}v${2*r}h${-2*r}Z`;
  return `M${px},${py-r*1.1}L${px+r},${py+r*0.75}L${px-r},${py+r*0.75}Z`;
}

function panel(o){
  const g = svg.append("g");
  const x = d3.scaleLinear().domain(o.xDomain).range(o.xRange);
  const y = d3.scaleLinear().domain(o.yDomain).range(o.yRange);
  const x0 = o.xRange[0];
  // grid
  g.append("g").selectAll("line").data(o.yTicks.filter(v=>v>0)).join("line")
    .attr("x1", x0).attr("x2", o.gridRight)
    .attr("y1", d=>y(d)).attr("y2", d=>y(d))
    .attr("stroke", d=> d===o.heavy ? "#7a7a7a" : "#8c8c8c")
    .attr("stroke-width", d=> d===o.heavy ? 1.5 : 1);
  // y axis
  const ya = g.append("g").attr("transform",`translate(${x0},0)`)
    .call(d3.axisLeft(y).tickValues(o.yTicks).tickSize(4).tickPadding(o.yPad).tickFormat(o.yFmt || d3.format("d")));
  // x axis labels
  const xa = g.append("g").attr("transform",`translate(0,${o.yRange[0]})`)
    .call(d3.axisBottom(x).tickValues(o.xLabels).tickSize(o.xMarks?0:4).tickPadding(o.xMarks?11:7).tickFormat(d3.format("d")));
  if(o.xMarks){
    g.append("g").attr("transform",`translate(0,${o.yRange[0]})`)
      .call(d3.axisBottom(x).tickValues(o.xMarks).tickSize(4).tickFormat(""))
      .call(s=>s.select(".domain").remove());
  }
  [ya,xa].forEach(a=>{
    a.select(".domain").attr("stroke","#868686").attr("stroke-width",1)
      .attr("d", a===ya ? `M-0,${o.yRange[0]}V${o.yRange[1]}` : `M${x0},0H${o.axisRight}`);
    a.selectAll("text").attr("font-size",10).attr("fill","#1a1a1a");
  });
  g.selectAll(".tick line").attr("stroke","#868686");
  // series
  const clipId = "clip"+o.id;
  svg.append("clipPath").attr("id",clipId).append("rect")
    .attr("x", x0-6).attr("y", o.yRange[1]-8).attr("width", o.gridRight-x0+12).attr("height", o.yRange[0]-o.yRange[1]+14);
  const sg = g.append("g").attr("clip-path",`url(#${clipId})`);
  const line = d3.line().x(d=>x(d[0])).y(d=>y(d[1]));
  o.series.forEach(s=>{
    sg.append("path").attr("d", line(s.data)).attr("fill","none")
      .attr("stroke", s.color).attr("stroke-width", s.lw).attr("stroke-opacity", s.lo)
      .attr("stroke-linejoin","round");
    sg.append("path").attr("d", s.data.map(d=>shapeAt(s.shape, x(d[0]), y(d[1]), s.r)).join(""))
      .attr("fill", s.color);
  });
  // legend
  const lg = g.append("g");
  o.series.forEach(s=>{
    const L = s.leg;
    lg.append("line").attr("x1",L[0]).attr("x2",L[1]).attr("y1",o.legY).attr("y2",o.legY)
      .attr("stroke", s.color).attr("stroke-width", 1.8).attr("stroke-opacity",0.85);
    lg.append("path").attr("d", shapeAt(s.shape,(L[0]+L[1])/2,o.legY,3)).attr("fill",s.color);
    lg.append("text").attr("x",L[2]).attr("y",o.legY+4).attr("font-size",o.legFont).text(s.name);
  });
  // titles
  g.append("text").attr("x",o.title[0]).attr("y",o.title[1]).attr("text-anchor","middle")
    .attr("font-size",10).attr("font-weight","bold").text(o.title[2]);
  g.append("text").attr("transform",`translate(${o.yTitle[0]},${o.yTitle[1]}) rotate(-90)`)
    .attr("text-anchor","middle").attr("font-size",9.6).attr("font-weight","bold").text("Link Quality");
  g.append("text").attr("x",o.xTitle[0]).attr("y",o.xTitle[1]).attr("text-anchor","middle")
    .attr("font-size",10).attr("font-weight","bold").text(o.xTitle[2]);
}

const toPairs = (t,v)=> t.map((d,i)=>[d,v[i]]);

// panel (a) left
panel({id:"A", xDomain:[210,250], xRange:[44.5,350], yDomain:[0,10], yRange:[204,47.7],
  yTicks:a_yTicks, xLabels:a_xTicks, gridRight:352.5, axisRight:352.5, yPad:7,
  legY:35, legFont:11, title:[182,14.5,"Node 8"], yTitle:[13,103], xTitle:[172,243,"Time (minutes)"],
  series:[
    {name:"RNP", data:a_rnp, color:COL.blue, shape:"diamond", r:2.2, lw:1.3, lo:0.75, leg:[113,133,137]},
    {name:"F-RNP", data:a_frnp, color:COL.red, shape:"square", r:2.4, lw:1.2, lo:0.85, leg:[172,194,198]},
    {name:"Four-bit", data:a_fourbit, color:COL.green, shape:"triangle", r:2.6, lw:1.2, lo:0.85, leg:[240,263,266]}
  ]});

// panel (a) right
panel({id:"B", xDomain:[211.5,245.18], xRange:[418,720], yDomain:[0,9], yRange:[200.7,49.3],
  yTicks:b_yTicks, xLabels:b_xLabels, xMarks:b_xMarks, gridRight:720, axisRight:720, yPad:7, heavy:8,
  legY:35, legFont:10.5, title:[551,16,"Node 8"], yTitle:[380,109], xTitle:[575,242,"Time(minutes)"],
  series:[
    {name:"PRR", data:b_prr, color:COL.blue, shape:"diamond", r:2.6, lw:1.3, lo:0.7, leg:[461,484,487]},
    {name:"WMEWMA", data:b_wmewma, color:COL.red, shape:"square", r:3, lw:1.3, lo:0.8, leg:[517,540,543]},
    {name:"ETX", data:b_etx, color:COL.green, shape:"triangle", r:3.2, lw:1.3, lo:0.7, leg:[603,623,627]}
  ]});

// panel (b) left
panel({id:"C", xDomain:[175,215], xRange:[42,349], yDomain:[0,10], yRange:[505,349],
  yTicks:c_yTicks, xLabels:c_xTicks, gridRight:351, axisRight:351, yPad:4,
  legY:336, legFont:11, title:[186,321,"Node 7"], yTitle:[13,403], xTitle:[171,543,"Time (minutes)"],
  series:[
    {name:"RNP", data:c_rnp, color:COL.blue, shape:"diamond", r:2.2, lw:1.3, lo:0.75, leg:[112,132,135]},
    {name:"F-RNP", data:c_frnp, color:COL.red, shape:"square", r:2.4, lw:1.2, lo:0.85, leg:[170,187,189]},
    {name:"Four-bit", data:c_fourbit, color:COL.green, shape:"triangle", r:2.6, lw:1.2, lo:0.85, leg:[240,261,264]}
  ]});

// panel (b) right
panel({id:"D", xDomain:[174.5,209.16], xRange:[417.3,720], yDomain:[0,1.2], yRange:[502.7,351],
  yTicks:d_yTicks, xLabels:d_xLabels, xMarks:d_xMarks, gridRight:720, axisRight:720, yPad:7,
  yFmt: v=> d3.format("~g")(v).replace(".",","),
  legY:338, legFont:10.5, title:[552,321,"Node 7"], yTitle:[380,410], xTitle:[574,543,"Time(minutes)"],
  series:[
    {name:"PRR", data:toPairs(d_time,d_prr), color:COL.red, shape:"square", r:2.6, lw:1.3, lo:0.8, leg:[462,485,488]},
    {name:"WMEWMA", data:toPairs(d_time,d_wmewma), color:COL.green, shape:"triangle", r:2.8, lw:1.3, lo:0.8, leg:[523,543,547]},
    {name:"ETX", data:toPairs(d_time,d_etx), color:COL.blue, shape:"diamond", r:2.8, lw:1.3, lo:0.8, leg:[608,630,633]}
  ]});

// captions
svg.append("text").attr("class","cap").attr("x",371).attr("y",273).attr("text-anchor","middle")
  .attr("font-size",20.6).text("(a) Indoor environment: aisle of building");
svg.append("text").attr("class","cap").attr("x",357.5).attr("y",575).attr("text-anchor","middle")
  .attr("font-size",20.4).text("(b) Outdoor environment:football field");
</script></body></html>
